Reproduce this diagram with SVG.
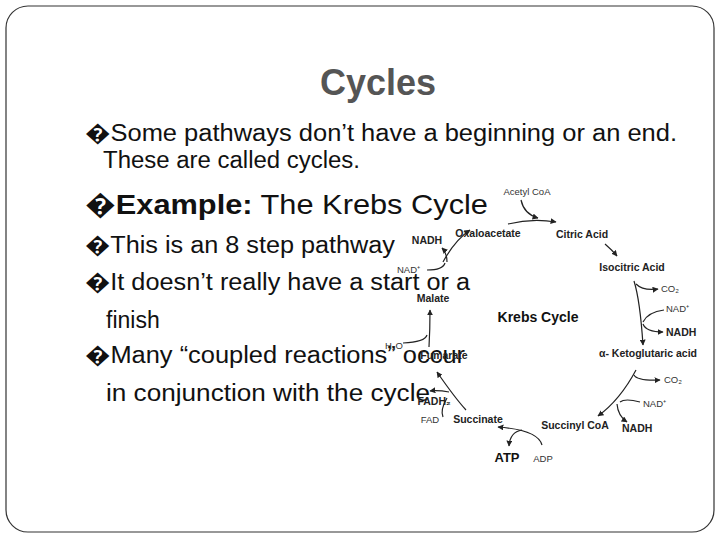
<svg xmlns="http://www.w3.org/2000/svg" width="720" height="540" viewBox="0 0 720 540">
<defs>
<marker id="ah" viewBox="0 0 10 10" refX="9" refY="5" markerWidth="5" markerHeight="5" orient="auto"><path d="M0,0L10,5L0,10z" fill="#222"/></marker>
<style>
.t{font-family:"Liberation Sans",Arial,sans-serif;fill:#111}
.b{font-size:23px}
.s{font-size:10.5px;font-weight:bold;fill:#222}
.n{font-size:9.5px;fill:#333}
.c path{fill:none;stroke:#222;stroke-width:1.2}
</style>
</defs>
<rect width="720" height="540" fill="#fff"/>
<rect x="6" y="6" width="708" height="526" rx="22" fill="none" stroke="#333" stroke-width="1.2"/>
<text class="t" x="378" y="95" text-anchor="middle" font-size="36" font-weight="bold" style="fill:#555">Cycles</text>
<g id="bullets">
<text class="t b" x="85" y="141" textLength="592" lengthAdjust="spacingAndGlyphs">�Some pathways don’t have a beginning or an end.</text>
<text class="t b" x="103" y="168" textLength="257" lengthAdjust="spacingAndGlyphs">These are called cycles.</text>
<text class="t" x="85" y="214" font-size="28" textLength="403" lengthAdjust="spacingAndGlyphs">�<tspan font-weight="bold">Example:</tspan> The Krebs Cycle</text>
<text class="t b" x="85" y="253" textLength="310" lengthAdjust="spacingAndGlyphs">�This is an 8 step pathway</text>
<text class="t b" x="85" y="290" textLength="385" lengthAdjust="spacingAndGlyphs">�It doesn’t really have a start or a</text>
<text class="t b" x="106" y="328">finish</text>
<text class="t b" x="85" y="363" textLength="380" lengthAdjust="spacingAndGlyphs">�Many “coupled reactions” occur</text>
<text class="t b" x="106" y="401" textLength="324" lengthAdjust="spacingAndGlyphs">in conjunction with the cycle</text>
</g>
<g id="nodes">
<text id="acetyl" class="t n" x="527" y="195" text-anchor="middle">Acetyl CoA</text>
<text id="oxalo" class="t s" x="488" y="237" text-anchor="middle">Oxaloacetate</text>
<text id="citric" class="t s" x="582" y="238" text-anchor="middle">Citric Acid</text>
<text id="isocitric" class="t s" x="632" y="271" text-anchor="middle">Isocitric Acid</text>
<text class="t n" x="661" y="292">CO₂</text>
<text class="t n" x="666" y="312">NAD⁺</text>
<text class="t s" x="666" y="336">NADH</text>
<text id="keto" class="t s" x="648" y="357" text-anchor="middle">α- Ketoglutaric acid</text>
<text class="t n" x="664" y="383">CO₂</text>
<text class="t n" x="643" y="407">NAD⁺</text>
<text class="t s" x="622" y="432">NADH</text>
<text id="succoa" class="t s" x="575" y="429" text-anchor="middle">Succinyl CoA</text>
<text class="t" x="507" y="462" text-anchor="middle" font-size="13" font-weight="bold">ATP</text>
<text class="t n" x="543" y="462" text-anchor="middle">ADP</text>
<text id="succinate" class="t s" x="478" y="423" text-anchor="middle">Succinate</text>
<text class="t n" x="430" y="423" text-anchor="middle">FAD</text>
<text class="t s" x="434" y="405" text-anchor="middle">FADH₂</text>
<text id="fumarate" class="t s" x="444" y="359" text-anchor="middle">Fumarate</text>
<text class="t n" x="385" y="349">H₂O</text>
<text id="malate" class="t s" x="433" y="302" text-anchor="middle">Malate</text>
<text class="t n" x="397" y="273">NAD⁺</text>
<text class="t s" x="427" y="244" text-anchor="middle">NADH</text>
<text id="krebs" class="t" x="538" y="322" text-anchor="middle" font-size="14" font-weight="bold">Krebs Cycle</text>
</g>
<g id="connectors" class="c">
<path d="M521,200 Q524,214 538,218" marker-end="url(#ah)"/>
<path d="M508,224 Q532,218 556,222" marker-end="url(#ah)"/>
<path d="M605,244 Q612,250 617,256" marker-end="url(#ah)"/>
<path d="M634,281 Q640,300 643,345" marker-end="url(#ah)"/>
<path d="M636,284 Q643,291 658,289" marker-end="url(#ah)"/>
<path d="M664,310 Q648,312 643,322"/>
<path d="M643,324 Q646,332 663,332" marker-end="url(#ah)"/>
<path d="M636,370 Q620,400 598,416" marker-end="url(#ah)"/>
<path d="M634,375 Q637,381 660,380" marker-end="url(#ah)"/>
<path d="M640,402 Q625,398 620,402"/>
<path d="M617,404 Q618,416 627,422" marker-end="url(#ah)"/>
<path d="M542,445 Q538,430 498,427" marker-end="url(#ah)"/>
<path d="M522,430 Q510,432 509,446" marker-end="url(#ah)"/>
<path d="M466,410 Q455,398 437,372" marker-end="url(#ah)"/>
<path d="M447,398 Q440,410 443,417"/>
<path d="M449,392 Q438,390 430,391" marker-end="url(#ah)"/>
<path d="M429,347 Q430,330 430,310" marker-end="url(#ah)"/>
<path d="M403,343 Q425,342 427,335"/>
<path d="M443,262 Q455,240 470,230" marker-end="url(#ah)"/>
<path d="M427,270 Q443,270 445,263"/>
<path d="M447,262 Q447,253 442,248" marker-end="url(#ah)"/>
</g>
</svg>
